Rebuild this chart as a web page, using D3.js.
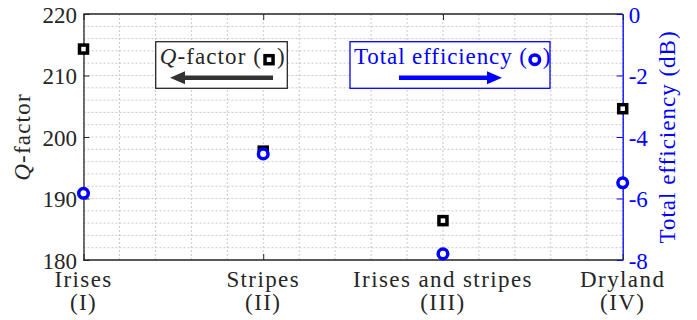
<!DOCTYPE html>
<head>
  <meta charset="utf-8">
  <script src="https://d3js.org/d3.v7.min.js"></script>
  <style>
    body { margin: 0; background: #fff; }
    svg text { font-family: "Liberation Serif", serif; }
  </style>
</head>
<body>
  <script>
    // data
    var categories = ["Irises", "Stripes", "Irises and stripes", "Dryland"];
    var romans = ["(I)", "(II)", "(III)", "(IV)"];
    var qFactor = [214.3, 197.7, 186.4, 204.6];
    var efficiency = [-5.83, -4.55, -7.8, -5.49];
    var qTicks = [180, 190, 200, 210, 220];
    var effTicks = [0, -2, -4, -6, -8];

    var outerWidth = 697, outerHeight = 320;
    var margin = { top: 14, left: 83.5, right: 74.3, bottom: 60 };
    var width = outerWidth - margin.left - margin.right,
      height = outerHeight - margin.top - margin.bottom;

    var blue = "#0000ff";
    var ink = "#262626";
    var fontSize = 23;

    var xScale = d3.scaleLinear().domain([1, 4]).range([0, width]);
    var yScale = d3.scaleLinear().domain([180, 220]).range([height, 0]);
    var y2Scale = d3.scaleLinear().domain([-8, 0]).range([height, 0]);

    var svg = d3.select("body").append("svg")
      .attr("width", outerWidth)
      .attr("height", outerHeight)
      .attr("font-family", "Liberation Serif")
      .append("g")
      .attr("transform", "translate(" + margin.left + " " + margin.top + ")");

    // dotted grid
    var grid = svg.append("g").attr("stroke", "#c8c8c8").attr("stroke-width", 1)
      .attr("stroke-dasharray", "2,2");
    grid.selectAll("line.v").data(d3.range(1, 4.01, 0.2)).enter().append("line")
      .attr("x1", function(d) { return xScale(d); })
      .attr("x2", function(d) { return xScale(d); })
      .attr("y1", 0).attr("y2", height);
    grid.selectAll("line.h").data(d3.range(180, 220.01, 2)).enter().append("line")
      .attr("x1", 0).attr("x2", width)
      .attr("y1", function(d) { return yScale(d); })
      .attr("y2", function(d) { return yScale(d); });

    // frame
    svg.append("line").attr("x1", 0).attr("x2", width).attr("y1", 0).attr("y2", 0)
      .attr("stroke", ink).attr("stroke-width", 1.3);
    svg.append("line").attr("x1", 0).attr("x2", width).attr("y1", height).attr("y2", height)
      .attr("stroke", ink).attr("stroke-width", 1.3);

    // left axis
    var yAxis = d3.axisLeft(yScale).tickValues(qTicks).tickSizeInner(-6).tickSizeOuter(0).tickPadding(6.5);
    var gy = svg.append("g").call(yAxis).attr("font-family", null);
    gy.select(".domain").attr("stroke", ink).attr("stroke-width", 1.3);
    gy.selectAll(".tick line").attr("stroke", ink);
    gy.selectAll(".tick text").attr("font-size", fontSize).attr("fill", ink).attr("dy", "0.35em");

    // right axis
    var y2Axis = d3.axisRight(y2Scale).tickValues(effTicks).tickSizeInner(-6).tickSizeOuter(0).tickPadding(6)
      .tickFormat(function(d) { return d === 0 ? "0" : "-" + Math.abs(d); });
    var gy2 = svg.append("g").attr("transform", "translate(" + width + " 0)").call(y2Axis).attr("font-family", null);
    gy2.select(".domain").attr("stroke", blue).attr("stroke-width", 1.3);
    gy2.selectAll(".tick line").attr("stroke", blue);
    gy2.selectAll(".tick text").attr("font-size", fontSize).attr("fill", blue).attr("dy", "0.35em");

    // category ticks, bottom and top
    var xAxis = d3.axisBottom(xScale).tickValues([1, 2, 3, 4]).tickSizeInner(-6).tickSizeOuter(0)
      .tickFormat(function() { return ""; });
    var gx = svg.append("g").attr("transform", "translate(0 " + height + ")").call(xAxis);
    gx.select(".domain").remove();
    gx.selectAll(".tick line").attr("stroke", ink);
    var xTop = d3.axisTop(xScale).tickValues([1, 2, 3, 4]).tickSizeInner(-6).tickSizeOuter(0)
      .tickFormat(function() { return ""; });
    var gxt = svg.append("g").call(xTop);
    gxt.select(".domain").remove();
    gxt.selectAll(".tick line").attr("stroke", ink);

    categories.forEach(function(c, i) {
      var t = svg.append("text")
        .attr("text-anchor", "middle")
        .attr("font-size", fontSize)
        .attr("letter-spacing", 1.4)
        .attr("fill", ink);
      t.append("tspan").attr("x", xScale(i + 1)).attr("y", height + 27).text(c);
      t.append("tspan").attr("x", xScale(i + 1)).attr("y", height + 50).text(romans[i]);
    });

    // axis titles
    var yl = svg.append("text")
      .attr("transform", "translate(" + (-54) + " " + (height / 2) + ") rotate(-90)")
      .attr("text-anchor", "middle")
      .attr("font-size", fontSize)
      .attr("letter-spacing", 1.2)
      .attr("fill", ink);
    yl.append("tspan").attr("font-style", "italic").text("Q");
    yl.append("tspan").text("-factor");

    svg.append("text")
      .attr("transform", "translate(" + (width + 52) + " " + (height / 2) + ") rotate(-90)")
      .attr("text-anchor", "middle")
      .attr("font-size", fontSize)
      .attr("letter-spacing", 1)
      .attr("fill", blue)
      .text("Total efficiency (dB)");

    // markers: squares first, circles on top
    function square(g, x, y) {
      g.append("rect").attr("x", x - 4).attr("y", y - 4).attr("width", 8).attr("height", 8)
        .attr("fill", "#fff").attr("stroke", "#000").attr("stroke-width", 3.5);
    }
    function circle(g, x, y) {
      g.append("circle").attr("cx", x).attr("cy", y).attr("r", 4.8)
        .attr("fill", "#fff").attr("stroke", blue).attr("stroke-width", 3.5);
    }
    var marks = svg.append("g");
    qFactor.forEach(function(v, i) { square(marks, xScale(i + 1), yScale(v)); });
    efficiency.forEach(function(v, i) { circle(marks, xScale(i + 1), y2Scale(v)); });

    // legend boxes
    function legend(x0, y0, w, h, colour, pieces, spacing, marker, arrowFrom, arrowTo, arrowColour) {
      var g = svg.append("g");
      g.append("rect").attr("x", x0).attr("y", y0).attr("width", w).attr("height", h)
        .attr("fill", "#fff").attr("stroke", colour).attr("stroke-width", 1.3);
      var t = g.append("text").attr("x", x0 + 4).attr("y", y0 + 22)
        .attr("font-size", fontSize).attr("letter-spacing", spacing).attr("fill", colour);
      pieces.forEach(function(p) {
        var s = t.append("tspan").text(p.text);
        if (p.italic) s.attr("font-style", "italic");
      });
      var len = t.node().getComputedTextLength();
      var mx = x0 + 4 + len + 7;
      marker(g, mx, y0 + 18);
      g.append("text").attr("x", mx + 8).attr("y", y0 + 22)
        .attr("font-size", fontSize).attr("fill", colour).text(")");
      // arrow
      var dir = arrowTo > arrowFrom ? 1 : -1;
      var ay = y0 + 36;
      var head = 15;
      g.append("line").attr("x1", arrowFrom).attr("x2", arrowTo - dir * head)
        .attr("y1", ay).attr("y2", ay)
        .attr("stroke", arrowColour).attr("stroke-width", 4.5);
      g.append("path")
        .attr("d", "M" + arrowTo + "," + ay + "L" + (arrowTo - dir * head) + "," + (ay - 6.5) +
          "L" + (arrowTo - dir * head) + "," + (ay + 6.5) + "Z")
        .attr("fill", arrowColour);
    }
    legend(155.7 - margin.left, 41.7 - margin.top, 131.6, 46.6, ink,
      [{ text: "Q", italic: true }, { text: "-factor (" }], 1.1, square,
      273 - margin.left, 170 - margin.left, "#333");
    legend(350 - margin.left, 41.7 - margin.top, 200, 46.6, blue,
      [{ text: "Total efficiency (" }], 0.9, circle,
      399 - margin.left, 502 - margin.left, blue);
  </script>
</body>
